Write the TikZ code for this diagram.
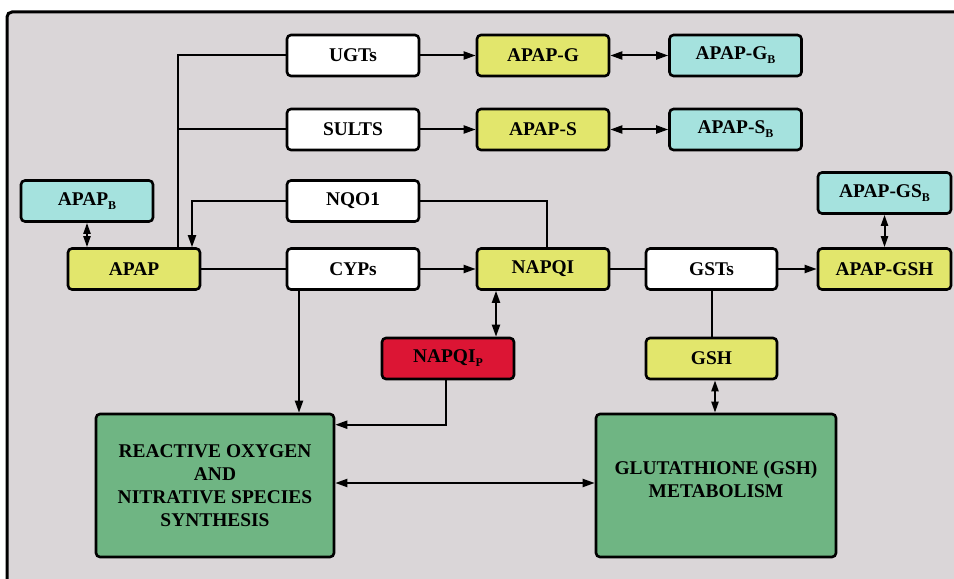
\documentclass[tikz,border=0pt]{standalone}
\usepackage{fontspec}
\setmainfont{Liberation Serif}
\usetikzlibrary{arrows.meta}
\definecolor{bgray}{HTML}{DAD6D8}
\definecolor{ylw}{HTML}{E2E66C}
\definecolor{cyn}{HTML}{A5E2DE}
\definecolor{rd}{HTML}{DC1534}
\definecolor{grn}{HTML}{6FB583}
\newcommand\subB[1]{\raisebox{-4bp}{\fontsize{12}{12}\selectfont #1}}
\begin{document}
\begin{tikzpicture}[x=1bp,y=-1bp,
  box/.style={draw, line width=2.6bp, rounded corners=4bp, minimum width=132bp,
    minimum height=41bp, inner sep=0pt, font=\bfseries\fontsize{19.5}{23}\selectfont},
  wbox/.style={box, fill=white},
  ybox/.style={box, fill=ylw},
  cbox/.style={box, fill=cyn},
  rbox/.style={box, fill=rd},
  gbox/.style={box, fill=grn, minimum height=143bp},
  bigtext/.style={align=center, font=\bfseries\fontsize{19.5}{23.3}\selectfont},
  conn/.style={line width=2bp},
  arr/.style={conn, -{Triangle[length=12bp,width=8bp]}},
  darr/.style={conn, {Triangle[length=12bp,width=8bp]}-{Triangle[length=12bp,width=8bp]}},
  sdarr/.style={conn, {Triangle[length=11bp,width=7bp]}-{Triangle[length=11bp,width=7bp]}}]
\useasboundingbox (0,0) rectangle (954,579);
\clip (0,0) rectangle (954,579);
\draw[line width=3bp, fill=bgray, rounded corners=5bp] (7,12) rectangle (985,600);

\node[wbox] (UGTs)  at (353,55.5) {UGTs};
\node[wbox] (SULTS) at (353,129.5) {SULTS};
\node[wbox] (NQO1)  at (353,201) {NQO1};
\node[wbox] (CYPs)  at (353,269) {CYPs};
\node[cbox] (APAPB) at (87,201) {APAP\subB{B}};
\node[ybox] (APAP)  at (134,269) {APAP};
\node[ybox] (APAPG) at (543,55.5) {APAP-G};
\node[cbox] (APAPGB) at (735.5,55.5) {APAP-G\subB{B}};
\node[ybox] (APAPS) at (543,129.5) {APAP-S};
\node[cbox] (APAPSB) at (735.5,129.5) {APAP-S\subB{B}};
\node[cbox, minimum width=133bp] (APAPGSB) at (884.5,193) {APAP-GS\subB{B}};
\node[ybox] (NAPQI) at (543,269) {NAPQI};
\node[wbox, minimum width=131bp] (GSTs) at (711.5,269) {GSTs};
\node[ybox, minimum width=133bp] (APAPGSH) at (884.5,269) {APAP-GSH};
\node[rbox] (NAPQIP) at (448,358.5) {NAPQI\subB{P}};
\node[ybox, minimum width=131bp] (GSH) at (711.5,358.5) {GSH};
\node[gbox, minimum width=238bp] (ROS) at (215,485.5) {};
\node[bigtext] (ROStext) at (ROS.center)
  {REACTIVE OXYGEN\\AND\\NITRATIVE SPECIES\\SYNTHESIS};
\node[gbox, minimum width=240bp] (GM) at (716,485.5) {};
\node[bigtext] (GMtext) at ([yshift=6bp]GM.center)
  {GLUTATHIONE (GSH)\\METABOLISM};

% APAP to UGTs / SULTS
\draw[conn] ([xshift=44bp]APAP.north) |- (UGTs.west);
\draw[conn] ([xshift=44bp]APAP.north |- SULTS.west) -- (SULTS.west);
\draw[arr] (NQO1.west) -| ([xshift=58bp]APAP.north);
\draw[conn] (NQO1.east) -| ([xshift=4bp]NAPQI.north);
\draw[conn] (APAP.east) -- (CYPs.west);
\draw[arr] (CYPs.east) -- (NAPQI.west);
\draw[arr] (UGTs.east) -- (APAPG.west);
\draw[arr] (SULTS.east) -- (APAPS.west);
\draw[darr] (APAPG.east) -- (APAPGB.west);
\draw[darr] (APAPS.east) -- (APAPSB.west);
\draw[sdarr] (APAPB.south) -- (APAPB.south |- APAP.north);
\draw[conn] (NAPQI.east) -- (GSTs.west);
\draw[arr] (GSTs.east) -- (APAPGSH.west);
\draw[sdarr] (APAPGSB.south) -- (APAPGSH.north);
\draw[darr] ([xshift=-47bp]NAPQI.south) -- ([xshift=-47bp]NAPQI.south |- NAPQIP.north);
\draw[conn] (GSTs.south) -- (GSH.north);
\draw[sdarr] ([xshift=3.5bp]GSH.south) -- ([xshift=3.5bp]GSH.south |- GM.north);
\draw[arr] ([xshift=-54bp]CYPs.south) -- ([xshift=-54bp]CYPs.south |- ROS.north);
\draw[arr] ([xshift=-2bp]NAPQIP.south) |- ([yshift=-12bp]ROS.north east);
\draw[darr] ([yshift=2.5bp]ROS.east) -- ([yshift=2.5bp]ROS.east -| GM.west);
\end{tikzpicture}
\end{document}
